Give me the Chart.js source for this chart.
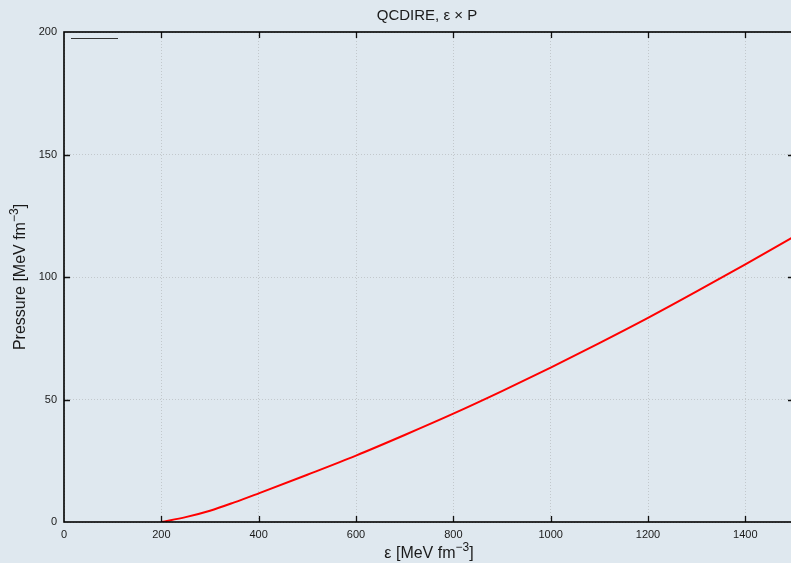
<!DOCTYPE html>
<html>
<head>
<meta charset="utf-8">
<script src="https://cdn.jsdelivr.net/npm/chart.js@4.4.0/dist/chart.umd.min.js"></script>
<style>
  html, body { margin: 0; padding: 0; background: #dfe8ef; overflow: hidden; }
  #wrap { width: 800px; height: 563px; }
</style>
</head>
<body>
<div id="wrap"><canvas id="c" width="800" height="563"></canvas></div>
<script>
// ---- data ----
const energyDensity = [200, 250, 300, 350, 400, 500, 600, 700, 800, 900, 1000, 1100, 1200, 1300, 1400, 1500];
const pressure      = [0, 2.0, 4.6, 8.0, 11.7, 19.3, 27.1, 35.5, 44.2, 53.4, 63.0, 73.0, 83.3, 94.1, 105.2, 116.5];
const xTicks = [0, 200, 400, 600, 800, 1000, 1200, 1400];
const yTicks = [0, 50, 100, 150, 200];
const titleText = 'QCDIRE, ε × P';
const xTitle = ['ε [MeV fm', '−3', ']'];
const yTitle = ['Pressure [MeV fm', '−3', ']'];

const FONT = '"Liberation Sans", Arial, Helvetica, sans-serif';
const TXT = '#1a1a1a';

function drawSupText(ctx, parts, x, y, size) {
  ctx.font = size + 'px ' + FONT;
  const w0 = ctx.measureText(parts[0]).width;
  const w2 = ctx.measureText(parts[2]).width;
  ctx.font = Math.round(size * 0.72) + 'px ' + FONT;
  const w1 = ctx.measureText(parts[1]).width;
  const total = w0 + w1 + w2;
  let cx = x - total / 2;
  ctx.textAlign = 'left';
  ctx.textBaseline = 'alphabetic';
  ctx.font = size + 'px ' + FONT;
  ctx.fillText(parts[0], cx, y); cx += w0;
  ctx.font = Math.round(size * 0.72) + 'px ' + FONT;
  ctx.fillText(parts[1], cx, y - size * 0.45); cx += w1;
  ctx.font = size + 'px ' + FONT;
  ctx.fillText(parts[2], cx, y);
}

const decor = {
  id: 'decor',
  beforeDraw(chart) {
    const ctx = chart.ctx;
    ctx.save();
    ctx.fillStyle = '#dfe8ef';
    ctx.fillRect(0, 0, chart.width, chart.height);
    ctx.restore();
  },
  afterDraw(chart) {
    const ctx = chart.ctx;
    const a = chart.chartArea;
    const xs = chart.scales.x, ys = chart.scales.y;
    ctx.save();
    ctx.strokeStyle = '#111';
    ctx.lineWidth = 1.3;
    ctx.beginPath();
    xTicks.forEach(v => {
      const px = Math.round(xs.getPixelForValue(v)) + 0.5;
      if (v === xs.min) return;
      ctx.moveTo(px, a.bottom); ctx.lineTo(px, a.bottom - 6);
      ctx.moveTo(px, a.top); ctx.lineTo(px, a.top + 6);
    });
    yTicks.forEach(v => {
      const py = Math.round(ys.getPixelForValue(v)) + 0.5;
      if (v === ys.min || v === ys.max) return;
      ctx.moveTo(a.left, py); ctx.lineTo(a.left + 6, py);
      ctx.moveTo(a.right, py); ctx.lineTo(a.right - 6, py);
    });
    ctx.stroke();
    ctx.lineWidth = 1.6;
    ctx.strokeStyle = '#000';
    ctx.strokeRect(a.left, a.top, a.right - a.left, a.bottom - a.top);
    ctx.lineWidth = 1.2;
    ctx.strokeStyle = '#333';
    ctx.beginPath();
    ctx.moveTo(a.left + 7, a.top + 6.5); ctx.lineTo(a.left + 54, a.top + 6.5);
    ctx.stroke();
    ctx.fillStyle = TXT;
    ctx.font = '15px ' + FONT;
    ctx.textAlign = 'center';
    ctx.textBaseline = 'alphabetic';
    ctx.fillText(titleText, 427, 20);
    drawSupText(ctx, xTitle, 429, 558, 16);
    ctx.translate(25, 277);
    ctx.rotate(-Math.PI / 2);
    drawSupText(ctx, yTitle, 0, 0, 16);
    ctx.restore();
  }
};

const gridStyle = {
  color: '#c2c8cc',
  lineWidth: 1,
  drawTicks: false
};

new Chart(document.getElementById('c'), {
  type: 'line',
  data: {
    datasets: [{
      data: energyDensity.map((e, i) => ({ x: e, y: pressure[i] })),
      borderColor: '#ff0000',
      borderWidth: 2,
      pointRadius: 0,
      cubicInterpolationMode: 'monotone',
      fill: false
    }]
  },
  options: {
    responsive: false,
    animation: false,
    devicePixelRatio: 1,
    layout: { padding: { left: 0, top: 32, right: 6, bottom: 0 } },
    plugins: { legend: { display: false }, title: { display: false }, tooltip: { enabled: false } },
    scales: {
      x: {
        type: 'linear',
        min: 0, max: 1500,
        afterBuildTicks: s => { s.ticks = xTicks.map(v => ({ value: v })); },
        afterFit: s => { s.height = 41; },
        grid: gridStyle,
        border: { display: false, dash: [1, 2] },
        ticks: { color: TXT, font: { family: FONT, size: 11 }, padding: 6, maxRotation: 0, autoSkip: false,
                 callback: v => String(v) }
      },
      y: {
        type: 'linear',
        min: 0, max: 200,
        afterBuildTicks: s => { s.ticks = yTicks.map(v => ({ value: v })); },
        afterFit: s => { s.width = 64; },
        grid: gridStyle,
        border: { display: false, dash: [1, 2] },
        ticks: { color: TXT, font: { family: FONT, size: 11 }, padding: 7, callback: v => String(v) }
      }
    }
  },
  plugins: [decor]
});
</script>
</body>
</html>
